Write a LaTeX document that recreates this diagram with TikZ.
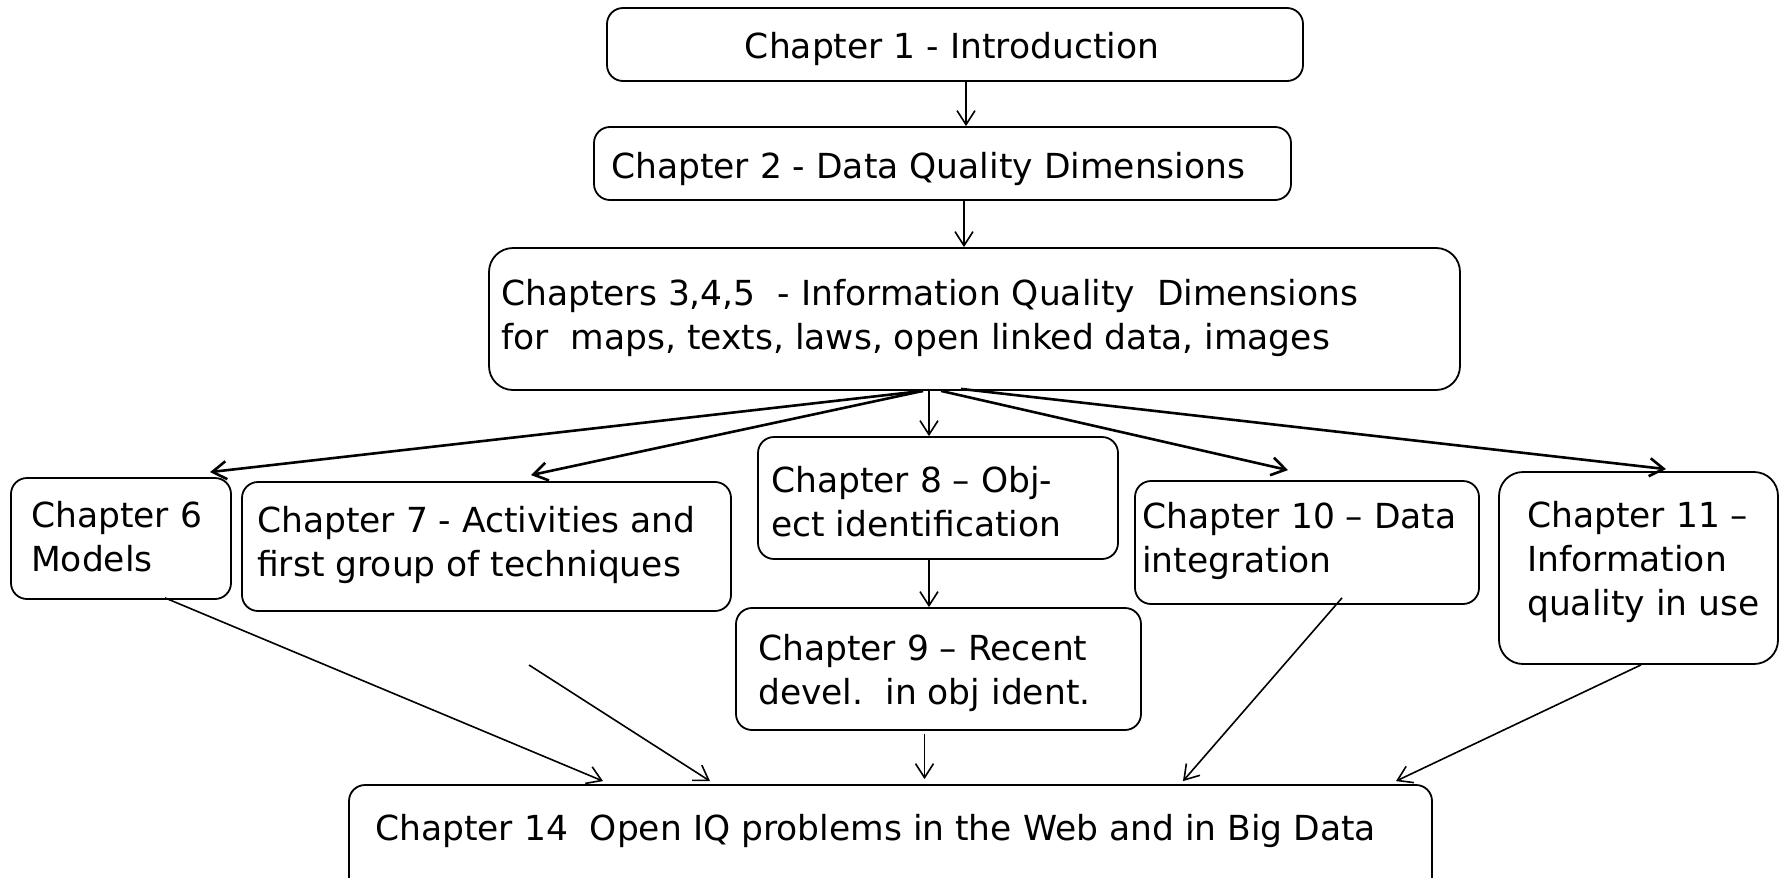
\documentclass[tikz,border=0pt]{standalone}
\usepackage{fontspec}
\setmainfont{DejaVu Sans}
\usetikzlibrary{arrows.meta}

\begin{document}
\begin{tikzpicture}[x=1pt, y=-1pt,
  box/.style={draw, rounded corners=16pt, line width=1.8pt, inner sep=0pt},
  lab/.style={inner sep=0pt, anchor=west, align=left, font=\fontsize{34.5}{44}\selectfont},
  link/.style={-{Straight Barb[length=14pt,width=18pt]}, line width=1.6pt},
  fan/.style={link, line width=2.6pt}
]
\useasboundingbox (0,0) rectangle (1783,878);

% boxes
\node[box, minimum width=696pt, minimum height=73pt] (ch1) at (955,44.5) {};
\node[box, minimum width=697pt, minimum height=73pt] (ch2) at (942.5,163.5) {};
\node[box, rounded corners=24pt, minimum width=971pt, minimum height=142pt] (ch3) at (974.5,319) {};
\node[box, minimum width=220pt, minimum height=121pt] (ch6) at (121,538.5) {};
\node[box, minimum width=489pt, minimum height=129pt] (ch7) at (486.5,546.5) {};
\node[box, minimum width=360pt, minimum height=122pt] (ch8) at (938,498) {};
\node[box, minimum width=405pt, minimum height=122pt] (ch9) at (938.5,669) {};
\node[box, minimum width=344pt, minimum height=123pt] (ch10) at (1307,542.5) {};
\node[box, rounded corners=24pt, minimum width=279pt, minimum height=192pt] (ch11) at (1638.5,568) {};
\node[box, minimum width=1083pt, minimum height=130pt] (ch14) at (890.5,850) {};

% texts
\node[lab, anchor=center] (lab1) at (952,48.5) {Chapter 1 - Introduction};
\node[lab] (lab2) at (611,168.5) {Chapter 2 - Data Quality Dimensions};
\node[lab] (lab3) at (501,317.5) {Chapters 3,4,5\ \ - Information Quality\ \ Dimensions\\for\ \ maps, texts, laws, open linked data, images};
\node[lab] (lab6) at (31,536.5) {Chapter 6\\Models};
\node[lab] (lab7) at (257,545) {Chapter 7 - Activities and\\first group of techniques};
\node[lab] (lab8) at (771,502) {Chapter 8 – Obj-\\ect identification};
\node[lab] (lab9) at (758,672.5) {Chapter 9 – Recent\\devel.\ \ in obj ident.};
\node[lab] (lab10) at (1142,540.5) {Chapter 10 – Data\\integration};
\node[lab] (lab11) at (1527,561.5) {Chapter 11 –\\Information\\quality in use};
\node[lab] (lab14) at (375,830.5) {Chapter 14\ \ Open IQ problems in the Web and in Big Data};

\coordinate (c7) at (529,665);

% connectors
\draw[link] ([xshift=11pt]ch1.south) -- ([xshift=23.5pt]ch2.north);
\draw[link] ([xshift=21.5pt]ch2.south) -- ([xshift=-10.5pt]ch3.north);
\draw[link] ([xshift=-45.5pt]ch3.south) -- ([xshift=-9pt]ch8.north);
\draw[fan] ([xshift=-51.5pt]ch3.south) -- ([xshift=89pt,yshift=5pt]ch6.north);
\draw[fan] ([xshift=-51.5pt]ch3.south) -- ([xshift=44.5pt,yshift=6pt]ch7.north);
\draw[fan] ([xshift=-33.5pt]ch3.south) -- ([xshift=-19pt,yshift=10pt]ch10.north);
\draw[fan] ([xshift=-13.5pt,yshift=2pt]ch3.south) -- ([xshift=27.5pt,yshift=2pt]ch11.north);
\draw[link] ([xshift=-9pt]ch8.south) -- ([xshift=-9.5pt]ch9.north);
\draw[link] ([xshift=44pt,yshift=2pt]ch6.south) -- ([xshift=-287.5pt,yshift=3pt]ch14.north);
\draw[link] (c7) -- ([xshift=-180.5pt,yshift=3pt]ch14.north);
\draw[link] ([xshift=-14pt,yshift=-3pt]ch9.south) -- ([xshift=34pt,yshift=5pt]ch14.north);
\draw[link] ([xshift=35pt,yshift=7pt]ch10.south) -- ([xshift=292.5pt,yshift=3pt]ch14.north);
\draw[link] ([xshift=2.5pt]ch11.south) -- ([xshift=505.5pt,yshift=3pt]ch14.north);
\end{tikzpicture}
\end{document}
